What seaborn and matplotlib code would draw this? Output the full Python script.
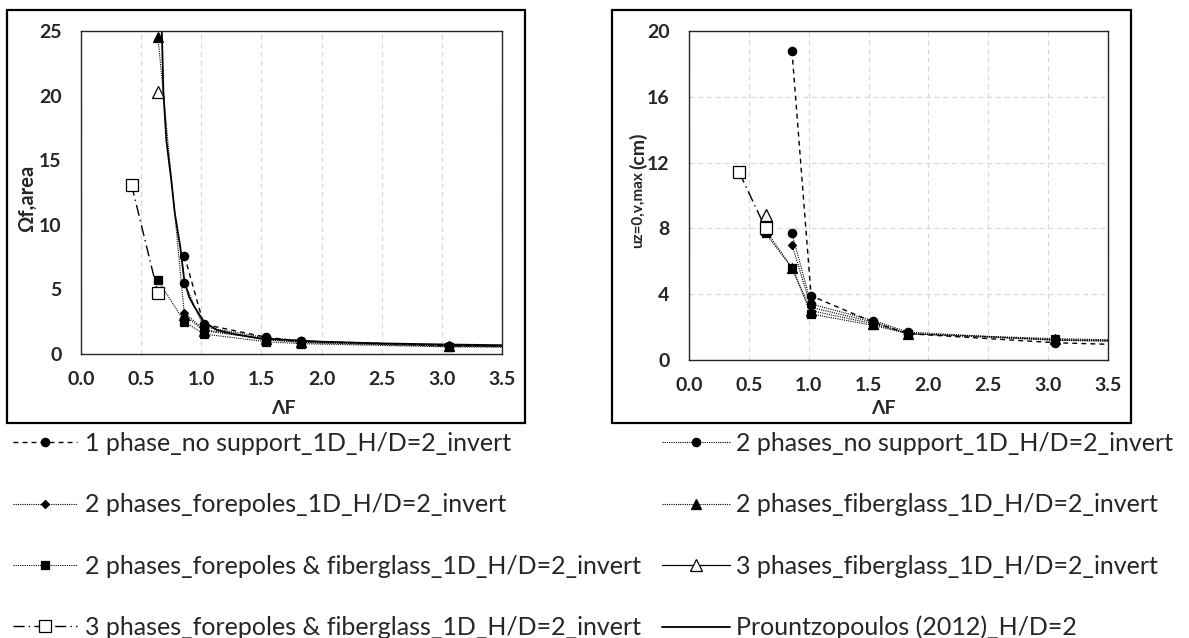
import matplotlib
matplotlib.use("Agg")
import matplotlib.pyplot as plt
from matplotlib.patches import Rectangle
from matplotlib.ticker import FormatStrFormatter, MultipleLocator
import seaborn as sns

sns.set_theme(style="white")
plt.rcParams["font.family"] = ["Lato", "DejaVu Sans"]

# ---- data ----
# a point past 3.5 only carries the line out to the axis edge (no marker drawn there)
LABELS = ["1 phase_no support_1D_H/D=2_invert",
          "2 phases_no support_1D_H/D=2_invert",
          "2 phases_forepoles_1D_H/D=2_invert",
          "2 phases_fiberglass_1D_H/D=2_invert",
          "2 phases_forepoles & fiberglass_1D_H/D=2_invert",
          "3 phases_fiberglass_1D_H/D=2_invert",
          "3 phases_forepoles & fiberglass_1D_H/D=2_invert",
          "Prountzopoulos (2012)_H/D=2"]

lf_1ph_ns   = [0.86, 1.02, 1.54, 1.83, 3.06, 4.0]
lf_2ph_ns   = [0.86, 1.02, 1.54, 1.83, 3.06, 4.0]
lf_2ph_fp   = [0.86, 1.02, 1.54, 1.83, 3.06, 4.0]
lf_2ph_fg   = [0.64, 0.86, 1.02, 1.54, 1.83, 3.06, 4.0]
lf_2ph_fpfg = [0.64, 0.86, 1.02, 1.54, 1.83, 3.06, 4.0]
lf_3ph_fg   = [0.64]
lf_3ph_fpfg = [0.42, 0.64]

# left panel: Omega f,area
om_1ph_ns   = [7.6, 2.3, 1.3, 1.0, 0.65, 0.6]
om_2ph_ns   = [5.5, 2.1, 1.25, 1.0, 0.65, 0.6]
om_2ph_fp   = [3.2, 1.9, 1.1, 0.9, 0.6, 0.55]
om_2ph_fg   = [24.5, 3.0, 1.8, 1.15, 0.9, 0.6, 0.55]
om_2ph_fpfg = [5.7, 2.5, 1.55, 0.95, 0.8, 0.55, 0.5]
om_3ph_fg   = [20.3]
om_3ph_fpfg = [13.1, 4.7]

# right panel: u z=0,v,max (cm)
u_1ph_ns   = [18.8, 3.9, 2.3, 1.6, 1.05, 0.85]
u_2ph_ns   = [7.7, 3.4, 2.4, 1.7, 1.2, 1.1]
u_2ph_fp   = [7.0, 3.2, 2.3, 1.6, 1.2, 1.1]
u_2ph_fg   = [7.9, 5.6, 3.0, 2.2, 1.6, 1.25, 1.15]
u_2ph_fpfg = [7.7, 5.6, 2.8, 2.1, 1.6, 1.3, 1.15]
u_3ph_fg   = [8.8]
u_3ph_fpfg = [11.4, 8.0]

# Prountzopoulos (2012) curve, left panel only
lf_prount = [0.665, 0.672, 0.685, 0.71, 0.75, 0.78, 0.825, 0.86, 0.90, 0.94,
             1.02, 1.13, 1.27, 1.49, 2.0, 2.5, 3.0, 3.5]
om_prount = [26.5, 25.0, 20.3, 16.5, 13.5, 10.9, 8.3, 5.6, 4.4, 3.7,
             2.5, 1.85, 1.55, 1.2, 0.95, 0.82, 0.74, 0.68]

DOT    = (0, (1, 1))
DASH   = (0, (3.5, 3))
DASHDT = (0, (8, 3, 1, 3))

# label -> (linestyle, marker, facecolor, markersize, linewidth)
STYLE = {
    LABELS[0]: (DASH,   "o", "black", 6.0, 1.0),
    LABELS[1]: (DOT,    "o", "black", 6.0, 0.8),
    LABELS[2]: (DOT,    "D", "black", 4.5, 0.8),
    LABELS[3]: (DOT,    "^", "black", 6.5, 0.8),
    LABELS[4]: (DOT,    "s", "black", 6.0, 0.8),
    LABELS[5]: ("-",    "^", "white", 8.0, 0.9),
    LABELS[6]: (DASHDT, "s", "white", 8.0, 1.0),
}

left_series = [(lf_1ph_ns, om_1ph_ns), (lf_2ph_ns, om_2ph_ns), (lf_2ph_fp, om_2ph_fp),
               (lf_2ph_fg, om_2ph_fg), (lf_2ph_fpfg, om_2ph_fpfg), (lf_3ph_fg, om_3ph_fg),
               (lf_3ph_fpfg, om_3ph_fpfg)]
right_series = [(lf_1ph_ns, u_1ph_ns), (lf_2ph_ns, u_2ph_ns), (lf_2ph_fp, u_2ph_fp),
                (lf_2ph_fg, u_2ph_fg), (lf_2ph_fpfg, u_2ph_fpfg), (lf_3ph_fg, u_3ph_fg),
                (lf_3ph_fpfg, u_3ph_fpfg)]

W, H = 1189, 638
fig = plt.figure(figsize=(W / 100, H / 100), dpi=100)

def px_axes(x0, y0, x1, y1):
    return fig.add_axes([x0 / W, 1 - y1 / H, (x1 - x0) / W, (y1 - y0) / H])

ax1 = px_axes(81, 31, 502, 354)
ax2 = px_axes(689, 31, 1108, 360)

# outer chart boxes
for x0, x1 in [(7, 525), (612, 1131)]:
    fig.add_artist(Rectangle((x0 / W, 1 - 423 / H), (x1 - x0) / W, 413 / H,
                             transform=fig.transFigure, fill=False,
                             edgecolor="black", linewidth=1.6))

def draw(ax, series):
    for lab, (x, y) in zip(LABELS, series):
        ls, mk, fc, ms, lw = STYLE[lab]
        sns.lineplot(x=x, y=y, ax=ax, color="black", linestyle=ls, linewidth=lw,
                     marker=mk, markersize=ms, markerfacecolor=fc,
                     markeredgecolor="black", markeredgewidth=0.9,
                     markevery=[i for i, v in enumerate(x) if v <= 3.5],
                     estimator=None, errorbar=None, label=lab)

draw(ax1, left_series)
sns.lineplot(x=lf_prount, y=om_prount, ax=ax1, color="black", linestyle="-",
             linewidth=1.3, estimator=None, errorbar=None, label=LABELS[7])
draw(ax2, right_series)

grid_kw = dict(color="#d9d9d9", linestyle=(0, (4, 3)), linewidth=0.9)
for ax, ymax, ystep in [(ax1, 25, 5), (ax2, 20, 4)]:
    ax.set_xlim(0, 3.5)
    ax.set_ylim(0, ymax)
    ax.xaxis.set_major_locator(MultipleLocator(0.5))
    ax.yaxis.set_major_locator(MultipleLocator(ystep))
    ax.xaxis.set_major_formatter(FormatStrFormatter("%.1f"))
    ax.tick_params(length=0, labelsize=14, pad=12)
    ax.tick_params(axis="y", pad=14)
    for t in ax.get_xticklabels() + ax.get_yticklabels():
        t.set_fontweight("bold")
    for sp in ax.spines.values():
        sp.set_color("#262626")
        sp.set_linewidth(1.0)
    ax.set_axisbelow(True)
    ax.xaxis.grid(True, **grid_kw)
    ax.set_xlabel("ΛF", fontsize=14, fontweight="bold")

ax2.yaxis.grid(True, **grid_kw)

ax1.xaxis.set_label_coords(0.48, -0.142)
ax2.xaxis.set_label_coords(0.465, -0.122)

ax1.set_ylabel("Ωf,area", fontsize=14.5, fontweight="bold")
ax1.yaxis.set_label_coords(-0.105, 0.481)
ax2.set_ylabel("")
ax2.text(-0.122, 0.5745, "uz=0,v,max", transform=ax2.transAxes, rotation=90,
         ha="center", va="top", fontsize=11, fontweight="bold")
ax2.text(-0.122, 0.5805, "(cm)", transform=ax2.transAxes, rotation=90,
         ha="center", va="bottom", fontsize=14, fontweight="bold")

handles, labels = ax1.get_legend_handles_labels()
ax1.get_legend().remove()
ax2.get_legend().remove()
hmap = dict(zip(labels, handles))

col_left = [LABELS[0], LABELS[2], LABELS[4], LABELS[6]]
col_right = [LABELS[1], LABELS[3], LABELS[5], LABELS[7]]
leg_kw = dict(loc="upper left", frameon=False, fontsize=18, labelspacing=1.53,
              borderpad=0, borderaxespad=0)
fig.legend([hmap[l] for l in col_left], col_left, bbox_to_anchor=(13 / W, 1 - 432 / H),
           handlelength=2.56, handletextpad=0.32, **leg_kw)
fig.legend([hmap[l] for l in col_right], col_right, bbox_to_anchor=(662 / W, 1 - 432 / H),
           handlelength=2.7, handletextpad=0.25, **leg_kw)

fig.savefig("out.png", dpi=100)
